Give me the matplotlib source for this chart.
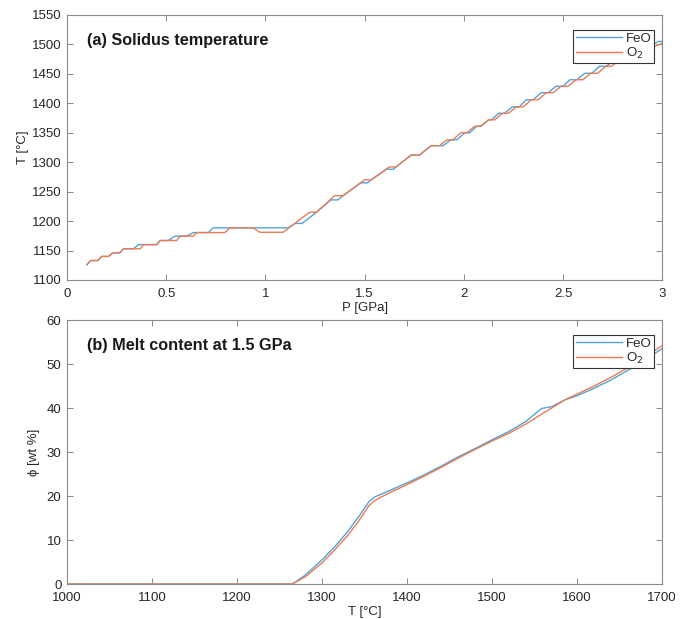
import matplotlib
matplotlib.use("Agg")
import matplotlib.pyplot as plt

plt.rcParams['font.family'] = ['Liberation Sans', 'DejaVu Sans']

# ---- (a) Solidus temperature: vertices of the stepped curves ----
P_feo = [0.100, 0.120, 0.155, 0.175, 0.210, 0.230, 0.265, 0.285, 0.335, 0.360,
         0.452, 0.469, 0.511, 0.544, 0.570, 0.603, 0.637, 0.712, 0.737, 1.114,
         1.150, 1.185, 1.257, 1.330, 1.365, 1.391, 1.480, 1.515, 1.533, 1.610,
         1.645, 1.659, 1.734, 1.776, 1.835, 1.895, 1.935, 1.965, 2.005, 2.030,
         2.065, 2.085, 2.125, 2.140, 2.175, 2.205, 2.245, 2.280, 2.315, 2.350,
         2.390, 2.425, 2.465, 2.500, 2.535, 2.570, 2.610, 2.645, 2.685, 2.720,
         2.760, 2.790, 2.830, 2.865, 2.905, 2.940, 2.980, 3.000]
T_feo = [1126, 1133, 1133, 1140, 1140, 1146, 1146, 1153, 1153, 1160,
         1160, 1167, 1167, 1174.5, 1174.5, 1174.5, 1180.5, 1180.5, 1188.5, 1188.5,
         1196, 1196, 1215, 1236, 1236, 1243, 1265, 1265, 1270, 1288,
         1288, 1292, 1312, 1312, 1328, 1328, 1338, 1338, 1350, 1350,
         1361, 1361, 1372, 1372, 1383, 1383, 1394, 1394, 1406, 1406,
         1418, 1418, 1429, 1429, 1440, 1440, 1451, 1451, 1463, 1463,
         1475, 1475, 1486, 1486, 1497, 1497, 1505, 1505]

P_o2 = [0.100, 0.120, 0.155, 0.175, 0.210, 0.230, 0.265, 0.285, 0.370, 0.385,
        0.452, 0.469, 0.553, 0.570, 0.637, 0.654, 0.796, 0.821, 0.938, 0.972,
        1.089, 1.223, 1.257, 1.349, 1.391, 1.500, 1.533, 1.625, 1.659, 1.734,
        1.776, 1.835, 1.877, 1.915, 1.945, 1.985, 2.015, 2.055, 2.085, 2.125,
        2.155, 2.195, 2.225, 2.265, 2.300, 2.340, 2.375, 2.415, 2.450, 2.490,
        2.525, 2.565, 2.600, 2.640, 2.675, 2.715, 2.745, 2.790, 2.820, 2.860,
        2.890, 2.935, 2.965, 3.000]
T_o2 = [1126, 1133, 1133, 1140, 1140, 1146, 1146, 1153, 1153, 1160,
        1160, 1167, 1167, 1174.5, 1174.5, 1180.5, 1180.5, 1188.5, 1188.5, 1181,
        1181, 1215, 1215, 1243, 1243, 1270, 1270, 1292, 1292, 1312,
        1312, 1328, 1328, 1338, 1338, 1350, 1350, 1361, 1361, 1372,
        1372, 1383, 1383, 1394, 1394, 1406, 1406, 1418, 1418, 1429,
        1429, 1440, 1440, 1451, 1451, 1463, 1463, 1475, 1475, 1486,
        1486, 1497, 1497, 1502]

# ---- (b) Melt content at 1.5 GPa ----
T_melt = [1000, 1265, 1280, 1300, 1315, 1330, 1343, 1355, 1362, 1380, 1400,
          1420, 1440, 1460, 1480, 1500, 1520, 1540, 1558, 1570, 1585, 1600,
          1620, 1640, 1660, 1680, 1700]
phi_feo = [0, 0, 2.0, 5.5, 8.5, 11.9, 15.3, 18.7, 19.8, 21.3, 23.0,
           24.8, 26.8, 28.9, 30.8, 32.8, 34.7, 37.0, 39.9, 40.3, 41.8, 42.8,
           44.5, 46.4, 48.6, 51.0, 53.5]
phi_o2 = [0, 0, 1.6, 4.8, 7.8, 11.0, 14.3, 17.8, 19.0, 20.8, 22.6,
          24.5, 26.5, 28.6, 30.6, 32.5, 34.3, 36.4, 38.6, 40.0, 41.8, 43.2,
          45.0, 47.0, 49.2, 51.6, 54.2]

series_labels = ["FeO", "O$_2$"]
c_blue = "#4fa3dc"
c_orange = "#ec7a55"
spine_c = "#8a8a8a"
text_c = "#262626"

fig = plt.figure(figsize=(6.81, 6.19), dpi=100)
ax1 = fig.add_axes([0.0984, 0.5477, 0.874, 0.4281])
ax2 = fig.add_axes([0.0984, 0.0565, 0.874, 0.4265])


def style(ax):
    for s in ax.spines.values():
        s.set_color(spine_c)
        s.set_linewidth(0.8)
    ax.tick_params(direction='in', top=True, right=True, length=4, width=0.7,
                   color=spine_c, labelcolor=text_c, labelsize=9.5)
    ax.tick_params(axis='x', pad=5.5)
    ax.tick_params(axis='y', pad=4)


ax1.plot(P_feo, T_feo, color=c_blue, lw=1.0, label=series_labels[0])
ax1.plot(P_o2, T_o2, color=c_orange, lw=1.0, label=series_labels[1])
ax1.set_xlim(0, 3)
ax1.set_ylim(1100, 1550)
ax1.set_xticks([0, 0.5, 1, 1.5, 2, 2.5, 3])
ax1.set_xticklabels(["0", "0.5", "1", "1.5", "2", "2.5", "3"])
ax1.set_yticks(range(1100, 1551, 50))
ax1.set_xlabel("P [GPa]", fontsize=9.5, color=text_c, labelpad=1.5)
ax1.set_ylabel("T [°C]", fontsize=9.5, color=text_c, labelpad=2)
ax1.text(0.034, 0.904, "(a) Solidus temperature", transform=ax1.transAxes,
         fontsize=11.7, fontweight='bold', color='#1a1a1a', va='center', ha='left')
style(ax1)

ax2.plot(T_melt, phi_feo, color=c_blue, lw=1.0, label=series_labels[0])
ax2.plot(T_melt, phi_o2, color=c_orange, lw=1.0, label=series_labels[1])
ax2.set_xlim(1000, 1700)
ax2.set_ylim(0, 60)
ax2.set_xticks(range(1000, 1701, 100))
ax2.set_yticks(range(0, 61, 10))
ax2.set_xlabel("T [°C]", fontsize=9.5, color=text_c, labelpad=1.5)
ax2.set_ylabel("ϕ [wt %]", fontsize=9.5, color=text_c, labelpad=5)
ax2.text(0.034, 0.903, "(b) Melt content at 1.5 GPa", transform=ax2.transAxes,
         fontsize=11.7, fontweight='bold', color='#1a1a1a', va='center', ha='left')
style(ax2)

for ax in (ax1, ax2):
    leg = ax.legend(loc='upper right', bbox_to_anchor=(1 - 8 / 595, 1 - 15 / 265),
                    borderaxespad=0, fontsize=9.5, frameon=True, fancybox=False,
                    framealpha=1, edgecolor='#333333', handlelength=3.5,
                    handletextpad=0.3, borderpad=0.2, labelspacing=0.05)
    leg.get_frame().set_linewidth(0.8)
    for t in leg.get_texts():
        t.set_color(text_c)

fig.savefig("out.png", dpi=100)
